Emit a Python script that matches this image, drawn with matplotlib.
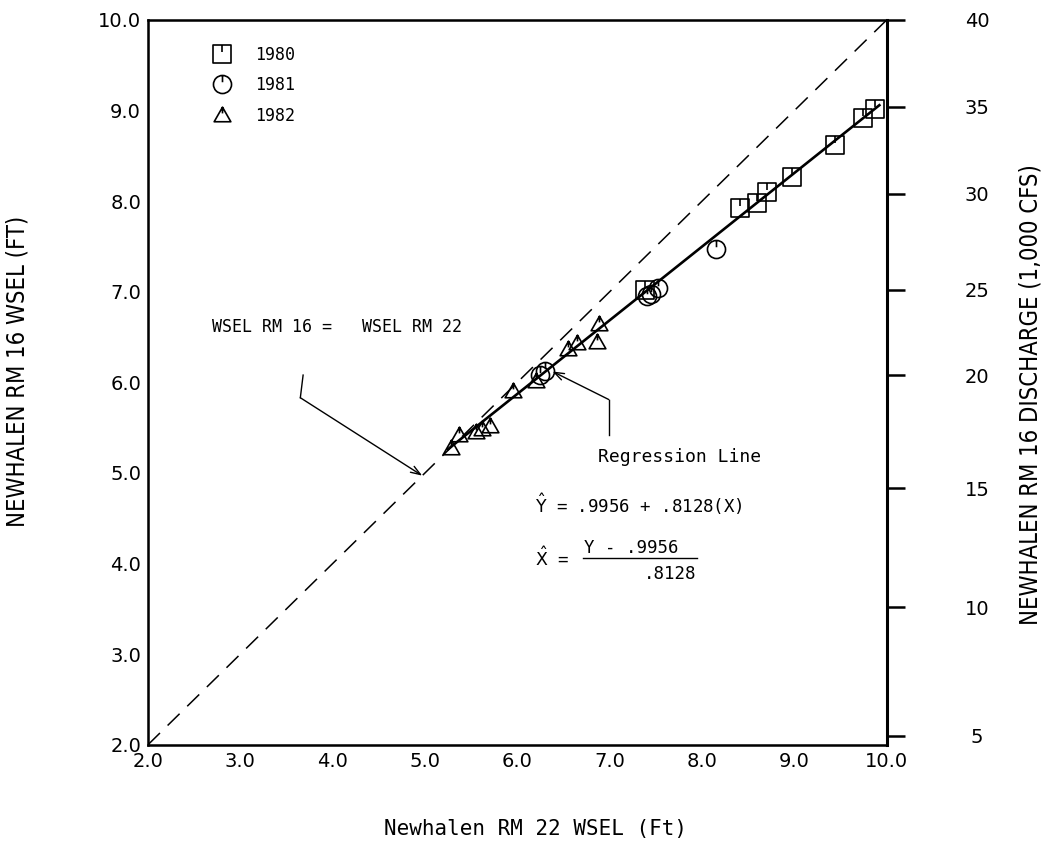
import numpy as np
import matplotlib
matplotlib.use("Agg")
import matplotlib.pyplot as plt
from matplotlib.path import Path

# 1980 / 1981 / 1982 observations (RM 22 WSEL vs RM 16 WSEL, ft)
x_1980 = [7.38, 8.41, 8.60, 8.70, 8.97, 9.44, 9.74, 9.87]
y_1980 = [7.02, 7.92, 7.98, 8.10, 8.27, 8.62, 8.92, 9.02]

x_1981 = [6.25, 6.30, 7.40, 7.45, 7.52, 8.15]
y_1981 = [6.08, 6.12, 6.95, 6.98, 7.04, 7.47]

x_1982 = [5.28, 5.37, 5.55, 5.62, 5.70, 5.95, 6.20, 6.55, 6.65, 6.86, 6.88]
y_1982 = [5.27, 5.42, 5.45, 5.48, 5.52, 5.90, 6.02, 6.37, 6.43, 6.45, 6.64]

# regression Y = a + b X, drawn over the range of the data
reg_a = 0.9956
reg_b = 0.8128
reg_x = [5.25, 9.92]

# right axis: discharge (1,000 cfs) at stage positions
q_pos = [10.0, 9.04, 8.08, 7.02, 6.08, 4.83, 3.52, 2.10]
q_labels = ["40", "35", "30", "25", "20", "15", "10", "5"]

ticks = [2.0, 3.0, 4.0, 5.0, 6.0, 7.0, 8.0, 9.0, 10.0]

mono = "DejaVu Sans Mono"
plt.rcParams["mathtext.fontset"] = "dejavusans"


def tick_marker(outline):
    # plotter-style symbol: outline with a short tick from the top
    tick = Path([(0, 1), (0, 0.25)], [Path.MOVETO, Path.LINETO])
    return Path.make_compound_path(outline, tick)


sq = Path([(-1, -1), (1, -1), (1, 1), (-1, 1), (-1, -1)],
          [Path.MOVETO, Path.LINETO, Path.LINETO, Path.LINETO, Path.CLOSEPOLY])
tri = Path([(-1, -0.75), (1, -0.75), (0, 1), (-1, -0.75)],
           [Path.MOVETO, Path.LINETO, Path.LINETO, Path.CLOSEPOLY])
m_sq = tick_marker(sq)
m_ci = tick_marker(Path.unit_circle())
m_tri = tick_marker(tri)

fig = plt.figure(figsize=(10.42, 8.65), dpi=100)
ax = fig.add_axes([0.142, 0.139, 0.709, 0.838])

ax.plot([2, 10], [2, 10], color="black", linestyle=(0, (11, 7)), linewidth=1.1)
reg_y = [reg_a + reg_b * v for v in reg_x]
ax.plot(reg_x, reg_y, color="black", linewidth=1.9)

ax.plot(x_1980, y_1980, linestyle="none", marker=m_sq, markersize=13,
        markerfacecolor="none", markeredgecolor="black", markeredgewidth=1.2, label="1980")
ax.plot(x_1981, y_1981, linestyle="none", marker=m_ci, markersize=13,
        markerfacecolor="none", markeredgecolor="black", markeredgewidth=1.2, label="1981")
ax.plot(x_1982, y_1982, linestyle="none", marker=m_tri, markersize=12,
        markerfacecolor="none", markeredgecolor="black", markeredgewidth=1.2, label="1982")

ax.set_xlim(2, 10)
ax.set_ylim(2, 10)
ax.set_xticks(ticks)
ax.set_yticks(ticks)
ax.set_xticklabels(["%.1f" % t for t in ticks])
ax.set_yticklabels(["%.1f" % t for t in ticks])
ax.tick_params(length=0, labelsize=14, pad=5)
for sp in ax.spines.values():
    sp.set_linewidth(1.8)

ax2 = ax.twinx()
ax2.set_ylim(2, 10)
ax2.set_yticks(q_pos)
ax2.set_yticklabels(q_labels, ha="center")
ax2.tick_params(axis="y", direction="out", length=13, width=1.8, labelsize=14, pad=52)
ax2.spines["right"].set_linewidth(2.2)

ax.set_xlabel("Newhalen RM 22 WSEL (Ft)", family=mono, fontsize=15)
ax.xaxis.set_label_coords(0.524, -0.103)
ax.set_ylabel("NEWHALEN RM 16 WSEL (FT)", family="DejaVu Sans",
              fontstretch="condensed", fontsize=17)
ax.yaxis.set_label_coords(-0.16, 0.515)
ax2.set_ylabel("NEWHALEN RM 16 DISCHARGE (1,000 CFS)", family="DejaVu Sans",
               fontstretch="condensed", fontsize=17)
ax2.yaxis.set_label_coords(1.178, 0.483)

ax.legend(loc="upper left", bbox_to_anchor=(0.068, 0.985), frameon=False,
          handlelength=1.0, handletextpad=1.5, labelspacing=0.75,
          prop={"family": mono, "size": 12})

# 1:1 line annotation
ax.text(2.69, 6.61, "WSEL RM 16 =   WSEL RM 22", family=mono, fontsize=12, va="center")
ax.plot([3.68, 3.65], [6.08, 5.83], color="black", linewidth=1.0)
ax.annotate("", xy=(4.97, 4.97), xytext=(3.65, 5.83),
            arrowprops=dict(arrowstyle="->,head_length=0.7,head_width=0.25",
                            color="black", linewidth=1.0, shrinkA=0, shrinkB=0))

# regression annotation
ax.text(6.87, 5.18, "Regression Line", family=mono, fontsize=13, va="center")
ax.plot([6.99, 6.99], [5.42, 5.81], color="black", linewidth=1.0)
ax.annotate("", xy=(6.38, 6.12), xytext=(6.99, 5.81),
            arrowprops=dict(arrowstyle="->,head_length=0.7,head_width=0.25",
                            color="black", linewidth=1.0, shrinkA=0, shrinkB=0))

ax.text(6.19, 4.65, r"$\hat{\mathrm{Y}}$ = .9956 + .8128(X)", family=mono, fontsize=12.5, va="center")
ax.text(6.19, 4.06, r"$\hat{\mathrm{X}}$ =", family=mono, fontsize=12.5, va="center")
ax.text(6.72, 4.17, "Y - .9956", family=mono, fontsize=12.5, va="center")
ax.text(7.94, 3.88, ".8128", family=mono, fontsize=12.5, va="center", ha="right")
ax.plot([6.71, 7.94], [4.06, 4.06], color="black", linewidth=1.0)

fig.savefig("out.png", dpi=100)
